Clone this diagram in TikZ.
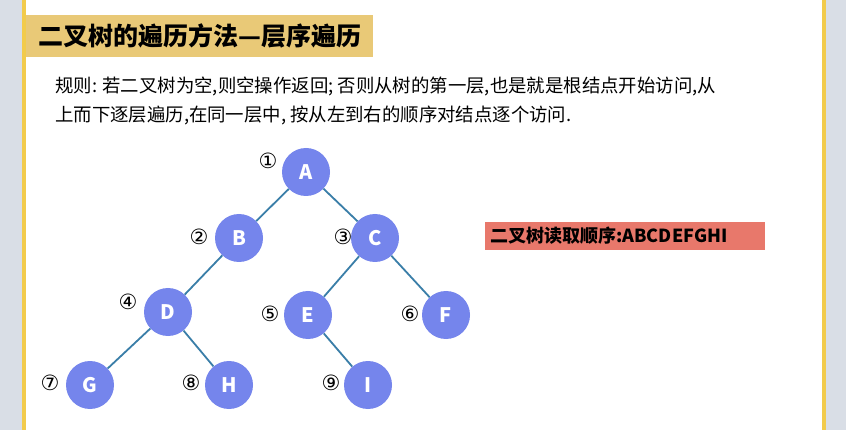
\documentclass[tikz,border=0pt]{standalone}
\usepackage{fontspec}
\usepackage{xcolor}
\newfontfamily\cjk{Noto Sans CJK SC}
\newfontfamily\circfont{DejaVu Sans}
\definecolor{stripgray}{HTML}{D9DEE6}
\definecolor{lineyellow}{HTML}{F2CB4C}
\definecolor{titlefill}{HTML}{E9C977}
\definecolor{orderred}{HTML}{E8786B}
\definecolor{nodeblue}{HTML}{7585EC}
\definecolor{edgeblue}{HTML}{3A7EA8}

\begin{document}
\begin{tikzpicture}[x=1pt,y=-1pt,
	tnode/.style={circle, fill=nodeblue, text=white, minimum size=48pt, inner sep=0pt,
		font=\cjk\bfseries\fontsize{20}{20}\selectfont},
	edge/.style={draw=edgeblue, line width=1.8pt},
	order/.style={inner sep=0pt, font=\circfont\fontsize{21}{21}\selectfont}]
	\useasboundingbox (0,0) rectangle (846,430);
	
	% Page background and side strips
	\fill[white] (0,0) rectangle (846,430);
	\fill[stripgray] (0,0) rectangle (22,430);
	\fill[stripgray] (826,0) rectangle (846,430);
	\fill[lineyellow] (22,0) rectangle (26,430);
	\fill[lineyellow] (822,0) rectangle (826,430);
	
	% Title
	\node[fill=titlefill, anchor=west, minimum height=42pt, minimum width=347pt, inner xsep=0pt,
		font=\cjk\bfseries\fontsize{25}{25}\selectfont] (title) at (26,36) {二叉树的遍历方法—层序遍历};
	
	% Rule text
	\node[anchor=north west, align=left, inner sep=0pt,
		font=\cjk\fontsize{18.4}{29}\selectfont] (rule) at (55,77)
		{规则: 若二叉树为空,则空操作返回; 否则从树的第一层,也是就是根结点开始访问,从\\
		上而下逐层遍历,在同一层中, 按从左到右的顺序对结点逐个访问.};
	
	% Result
	\node[fill=orderred, anchor=west, minimum height=28pt, text width=270pt, inner xsep=5pt,
		font=\cjk\bfseries\fontsize{18}{18}\selectfont] (result) at (485,236) {二叉树读取顺序:ABCDEFGHI};
	
	% Tree nodes
	\node[tnode] (A) at (306,172) {A};
	\node[tnode] (B) at (239,238) {B};
	\node[tnode] (C) at (375,238) {C};
	\node[tnode] (D) at (168,312) {D};
	\node[tnode] (E) at (308,315) {E};
	\node[tnode] (F) at (446,315) {F};
	\node[tnode] (G) at (90,385) {G};
	\node[tnode] (H) at (229,385) {H};
	\node[tnode] (I) at (368,385) {I};
	
	% Edges
	\draw[edge] (A) -- (B);
	\draw[edge] (A) -- (C);
	\draw[edge] (B) -- (D);
	\draw[edge] (C) -- (E);
	\draw[edge] (C) -- (F);
	\draw[edge] (D) -- (G);
	\draw[edge] (D) -- (H);
	\draw[edge] (E) -- (I);
	
	% Visiting order
	\node[order] (o1) at (268,161) {①};
	\node[order] (o2) at (199,237) {②};
	\node[order] (o3) at (343,237) {③};
	\node[order] (o4) at (128,302) {④};
	\node[order] (o5) at (270,314) {⑤};
	\node[order] (o6) at (410,314) {⑥};
	\node[order] (o7) at (50,383) {⑦};
	\node[order] (o8) at (191,383) {⑧};
	\node[order] (o9) at (331,383) {⑨};
\end{tikzpicture}
\end{document}
